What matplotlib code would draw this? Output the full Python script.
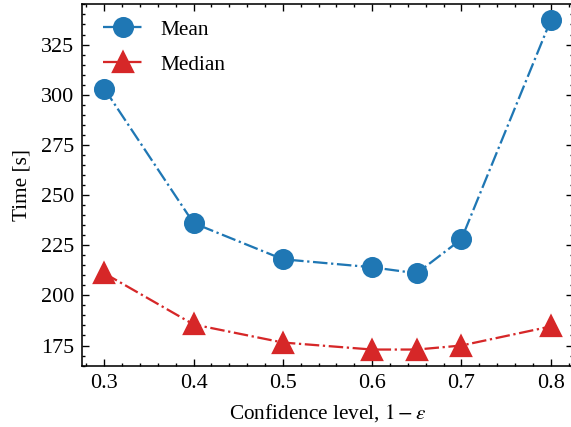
import matplotlib
matplotlib.use("Agg")
import matplotlib.pyplot as plt
from matplotlib.ticker import AutoMinorLocator, MultipleLocator

confidence = [0.3, 0.4, 0.5, 0.6, 0.65, 0.7, 0.8]
mean_time = [303, 236, 218, 214, 211, 228, 337]
median_time = [211, 185.5, 176.5, 173, 173, 175, 184.5]


def set_style():
    plt.rcParams.update(
        {
            "font.family": "serif",
            "font.serif": ["Liberation Serif", "DejaVu Serif"],
            "mathtext.fontset": "stix",
            "font.size": 9.4,
            "xtick.labelsize": 9.8,
            "ytick.labelsize": 9.8,
            "axes.linewidth": 0.7,
            "xtick.direction": "in",
            "ytick.direction": "in",
            "xtick.top": True,
            "ytick.right": True,
            "xtick.major.size": 3,
            "ytick.major.size": 3,
            "xtick.minor.size": 1.5,
            "ytick.minor.size": 1.5,
            "xtick.major.width": 0.6,
            "ytick.major.width": 0.6,
            "xtick.minor.width": 0.6,
            "ytick.minor.width": 0.6,
            "xtick.minor.visible": True,
            "ytick.minor.visible": True,
            "legend.frameon": False,
        }
    )


def main():
    set_style()
    dpi = 163
    fig = plt.figure(figsize=(571 / dpi, 427 / dpi), dpi=dpi)
    ax = fig.add_axes([82 / 571, 1 - 366 / 427, 491 / 571, 362 / 427])

    ax.plot(confidence, mean_time, "-.o", color="#1f77b4", lw=1.0,
            markersize=8.3, label="Mean")
    ax.plot(confidence, median_time, "-.^", color="#d62728", lw=1.0,
            markersize=8.8, label="Median")

    ax.set_xlabel(r"Confidence level, $1-\varepsilon$")
    ax.set_ylabel("Time [s]")
    ax.xaxis.set_major_locator(MultipleLocator(0.1))
    ax.xaxis.set_minor_locator(AutoMinorLocator(5))
    ax.yaxis.set_major_locator(MultipleLocator(25))
    ax.yaxis.set_minor_locator(AutoMinorLocator(5))
    ax.legend(loc="upper left", bbox_to_anchor=(0.012, 0.997),
              handlelength=1.9, borderaxespad=0.3, labelspacing=0.7)

    fig.savefig("out.png", dpi=dpi)
    plt.close(fig)


if __name__ == "__main__":
    main()
